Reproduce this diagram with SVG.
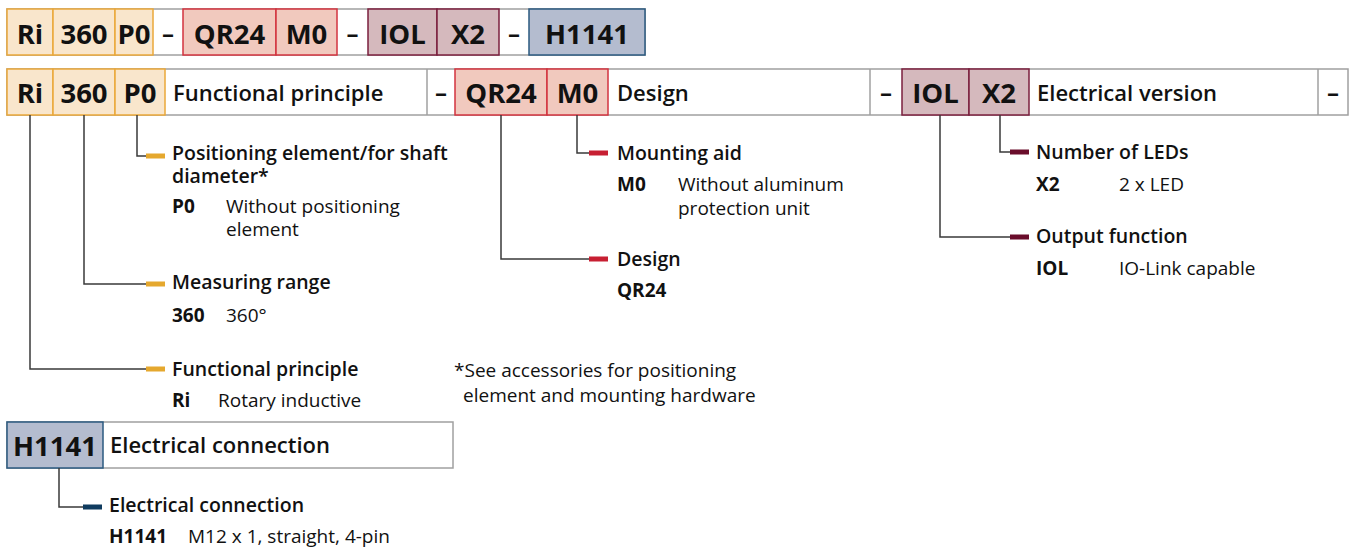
<svg xmlns="http://www.w3.org/2000/svg" width="1352" height="551" viewBox="0 0 1352 551">
<style>
text{font-family:"Open Sans","Liberation Sans",sans-serif;fill:#111}
.code{font-weight:700;font-size:27.5px;text-anchor:middle}
.main{font-weight:600;font-size:22px}
.dash{font-weight:700;font-size:24px;text-anchor:middle}
.lab{font-weight:600;font-size:19.5px}
.key{font-weight:700;font-size:19px}
.desc{font-weight:400;font-size:19px}
.gray{fill:#fff;stroke:#a0a0a0;stroke-width:1.5}
.yel{fill:#f9e6cc;stroke:#eaa83a;stroke-width:1.5}
.red{fill:#f1c9be;stroke:#d2333f;stroke-width:1.5}
.pur{fill:#d5b9bd;stroke:#7b1f3e;stroke-width:1.5}
.blu{fill:#b4bccf;stroke:#2b5a80;stroke-width:1.5}
.conn{fill:none;stroke:#3a3a3a;stroke-width:1.5}
.mk-y{fill:#e5a82e}.mk-r{fill:#c71f32}.mk-p{fill:#6a0d2b}.mk-b{fill:#0f3b5f}
</style>
<rect width="1352" height="551" fill="#fff"/>

<g id="type-code">
<rect class="gray" x="7" y="9" width="638" height="46"/>
<rect class="yel" x="7" y="9" width="46" height="46"/>
<rect class="yel" x="53" y="9" width="62" height="46"/>
<rect class="yel" x="115" y="9" width="38" height="46"/>
<rect class="red" x="183" y="9" width="93" height="46"/>
<rect class="red" x="276" y="9" width="61" height="46"/>
<rect class="pur" x="368" y="9" width="69" height="46"/>
<rect class="pur" x="437" y="9" width="62" height="46"/>
<rect class="blu" x="529" y="9" width="116" height="46"/>
<text class="code" x="30" y="44">Ri</text>
<text class="code" x="84" y="44">360</text>
<text class="code" x="134" y="44">P0</text>
<text class="dash" x="168" y="42">–</text>
<text class="code" x="229.5" y="44">QR24</text>
<text class="code" x="306.5" y="44">M0</text>
<text class="dash" x="352.5" y="42">–</text>
<text class="code" x="402.5" y="44">IOL</text>
<text class="code" x="468" y="44">X2</text>
<text class="dash" x="514" y="42">–</text>
<text class="code" x="587" y="44">H1141</text>
</g>

<g id="main-row">
<rect class="gray" x="7" y="69" width="1341" height="46"/>
<line x1="427" y1="69" x2="427" y2="115" stroke="#a0a0a0" stroke-width="1.5"/>
<line x1="870" y1="69" x2="870" y2="115" stroke="#a0a0a0" stroke-width="1.5"/>
<line x1="1318" y1="69" x2="1318" y2="115" stroke="#a0a0a0" stroke-width="1.5"/>
<rect class="yel" x="7" y="69" width="46" height="46"/>
<rect class="yel" x="53" y="69" width="62" height="46"/>
<rect class="yel" x="115" y="69" width="50" height="46"/>
<rect class="red" x="455" y="69" width="92" height="46"/>
<rect class="red" x="547" y="69" width="61" height="46"/>
<rect class="pur" x="902" y="69" width="67" height="46"/>
<rect class="pur" x="969" y="69" width="60" height="46"/>
<text class="code" x="30" y="103">Ri</text>
<text class="code" x="84" y="103">360</text>
<text class="code" x="140" y="103">P0</text>
<text class="main" x="173" y="101">Functional principle</text>
<text class="dash" x="441" y="101">–</text>
<text class="code" x="501" y="103">QR24</text>
<text class="code" x="577.5" y="103">M0</text>
<text class="main" x="617" y="101">Design</text>
<text class="dash" x="886" y="101">–</text>
<text class="code" x="935.5" y="103">IOL</text>
<text class="code" x="999" y="103">X2</text>
<text class="main" x="1037" y="101">Electrical version</text>
<text class="dash" x="1333" y="101">–</text>
</g>

<g id="conn-row">
<rect class="gray" x="7" y="422" width="446" height="46"/>
<rect class="blu" x="7" y="422" width="96" height="46"/>
<text class="code" x="55" y="456">H1141</text>
<text class="main" x="110" y="453">Electrical connection</text>
</g>

<g id="connectors">
<path class="conn" d="M30 115V369H146"/>
<path class="conn" d="M84 115V284H146"/>
<path class="conn" d="M137 115V156H146"/>
<path class="conn" d="M501 115V259H589"/>
<path class="conn" d="M577 115V153H589"/>
<path class="conn" d="M940 115V237H1010"/>
<path class="conn" d="M1000 115V152H1010"/>
<path class="conn" d="M59 468V507H83"/>
</g>

<g id="item-p0">
<rect class="mk-y" x="146" y="153.5" width="19" height="5"/>
<text class="lab" x="172" y="160">Positioning element/for shaft<tspan x="172" dy="23">diameter*</tspan></text>
<text class="key" x="172" y="213">P0</text>
<text class="desc" x="226" y="213">Without positioning<tspan x="226" dy="23">element</tspan></text>
</g>

<g id="item-360">
<rect class="mk-y" x="146" y="281.5" width="19" height="5"/>
<text class="lab" x="172" y="289">Measuring range</text>
<text class="key" x="172" y="322">360</text>
<text class="desc" x="226" y="322">360°</text>
</g>

<g id="item-ri">
<rect class="mk-y" x="146" y="366.5" width="19" height="5"/>
<text class="lab" x="172" y="376">Functional principle</text>
<text class="key" x="172" y="407">Ri</text>
<text class="desc" x="218" y="407">Rotary inductive</text>
</g>

<g id="item-m0">
<rect class="mk-r" x="589" y="150.5" width="19" height="5"/>
<text class="lab" x="617" y="160">Mounting aid</text>
<text class="key" x="617" y="191">M0</text>
<text class="desc" x="678" y="191">Without aluminum<tspan x="678" dy="24">protection unit</tspan></text>
</g>

<g id="item-qr24">
<rect class="mk-r" x="589" y="256.5" width="19" height="5"/>
<text class="lab" x="617" y="266">Design</text>
<text class="key" x="617" y="297">QR24</text>
</g>

<g id="item-x2">
<rect class="mk-p" x="1010" y="149.5" width="19" height="5"/>
<text class="lab" x="1036" y="159">Number of LEDs</text>
<text class="key" x="1036" y="191">X2</text>
<text class="desc" x="1119" y="191">2 x LED</text>
</g>

<g id="item-iol">
<rect class="mk-p" x="1010" y="234.5" width="19" height="5"/>
<text class="lab" x="1036" y="243">Output function</text>
<text class="key" x="1036" y="275">IOL</text>
<text class="desc" x="1119" y="275">IO-Link capable</text>
</g>

<g id="item-h1141">
<rect class="mk-b" x="83" y="504.5" width="19" height="5"/>
<text class="lab" x="109" y="512">Electrical connection</text>
<text class="key" x="109" y="543">H1141</text>
<text class="desc" x="188" y="543">M12 x 1, straight, 4-pin</text>
</g>

<g id="footnote">
<text class="desc" x="454" y="377">*See accessories for positioning<tspan x="463" dy="25">element and mounting hardware</tspan></text>
</g>
</svg>
